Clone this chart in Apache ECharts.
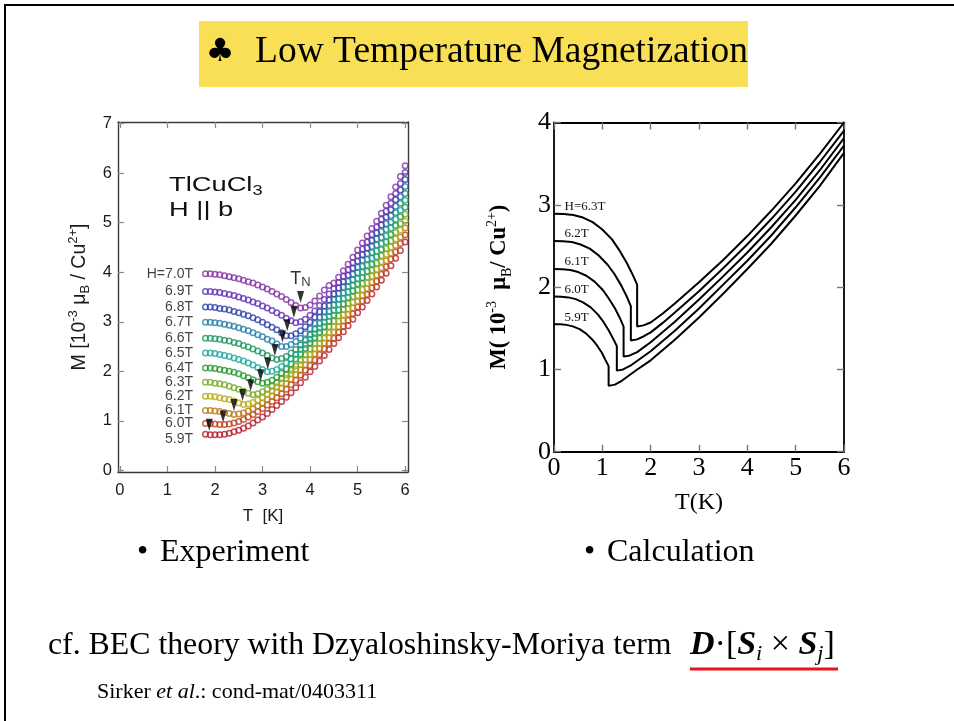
<!DOCTYPE html>
<html><head><meta charset="utf-8">
<script src="https://cdn.jsdelivr.net/npm/echarts@6/dist/echarts.min.js"></script>
<style>html,body{margin:0;padding:0;background:#fff}#c{width:954px;height:721px}</style>
</head><body><div id="c"></div>
<script>
// ---------- Experiment (left panel) ----------
const expTemps = [1.8,1.9,2.0,2.1,2.2,2.3,2.4,2.5,2.6,2.7,2.8,2.9,3.0,3.1,3.2,3.3,3.4,3.5,3.6,3.7,3.8,3.9,4.0,4.1,4.2,4.3,4.4,4.5,4.6,4.7,4.8,4.9,5.0,5.1,5.2,5.3,5.4,5.5,5.6,5.7,5.8,5.9,6.0];
const expFields = ['5.9','6.0','6.1','6.2','6.3','6.4','6.5','6.6','6.7','6.8','6.9','7.0'];
const expM59 = [0.73,0.72,0.72,0.72,0.73,0.75,0.78,0.81, 0.85,0.90,0.96,1.02,1.08,1.15,1.23,1.31, 1.39,1.48,1.57,1.67,1.77,1.88,1.99,2.10, 2.21,2.32,2.44,2.56,2.68,2.80,2.92,3.05, 3.18,3.30,3.43,3.56,3.70,3.84,3.98,4.13, 4.28,4.44,4.61];
const expM60 = [0.95,0.95,0.94,0.93,0.93,0.94,0.96,0.99, 1.03,1.08,1.13,1.19,1.25,1.32,1.39,1.47, 1.55,1.64,1.73,1.82,1.92,2.02,2.12,2.23, 2.34,2.45,2.56,2.67,2.79,2.91,3.03,3.16, 3.30,3.42,3.55,3.68,3.82,3.96,4.11,4.26, 4.41,4.58,4.75];
const expM61 = [1.21,1.21,1.20,1.19,1.17,1.15,1.13,1.14, 1.16,1.20,1.24,1.30,1.36,1.43,1.50,1.58, 1.66,1.75,1.84,1.93,2.03,2.13,2.24,2.35, 2.46,2.57,2.68,2.79,2.90,3.02,3.15,3.28, 3.41,3.53,3.67,3.80,3.94,4.09,4.23,4.38, 4.54,4.71,4.89];
const expM62 = [1.50,1.50,1.49,1.47,1.45,1.43,1.40,1.36, 1.33,1.34,1.37,1.42,1.47,1.54,1.61,1.69, 1.77,1.86,1.95,2.04,2.14,2.24,2.34,2.45, 2.56,2.67,2.78,2.90,3.01,3.14,3.26,3.39, 3.53,3.65,3.78,3.92,4.06,4.21,4.36,4.51, 4.67,4.85,5.03];
const expM63 = [1.78,1.78,1.76,1.75,1.73,1.70,1.67,1.64, 1.60,1.56,1.53,1.55,1.59,1.64,1.70,1.77, 1.85,1.93,2.02,2.11,2.22,2.33,2.45,2.56, 2.67,2.79,2.90,3.01,3.12,3.25,3.37,3.51, 3.64,3.77,3.90,4.04,4.18,4.33,4.48,4.63, 4.80,4.98,5.17];
const expM64 = [2.07,2.07,2.06,2.04,2.02,2.00,1.98,1.95, 1.91,1.87,1.83,1.79,1.76,1.78,1.82,1.88, 1.96,2.05,2.15,2.25,2.35,2.46,2.57,2.68, 2.79,2.90,3.01,3.13,3.24,3.36,3.49,3.62, 3.76,3.89,4.02,4.16,4.31,4.46,4.61,4.76, 4.94,5.12,5.31];
const expM65 = [2.37,2.37,2.36,2.34,2.32,2.30,2.27,2.24, 2.21,2.17,2.13,2.08,2.04,1.99,2.00,2.04, 2.10,2.17,2.25,2.34,2.44,2.54,2.65,2.76, 2.87,2.99,3.11,3.23,3.35,3.47,3.60,3.73, 3.87,4.00,4.14,4.28,4.43,4.58,4.73,4.89, 5.07,5.25,5.45];
const expM66 = [2.67,2.67,2.66,2.65,2.63,2.61,2.58,2.56, 2.52,2.49,2.45,2.41,2.37,2.32,2.27,2.24, 2.26,2.30,2.37,2.44,2.53,2.63,2.74,2.85, 2.97,3.09,3.21,3.34,3.46,3.58,3.71,3.85, 3.99,4.12,4.26,4.40,4.55,4.70,4.86,5.01, 5.20,5.39,5.59];
const expM67 = [2.99,2.99,2.98,2.97,2.95,2.93,2.91,2.88, 2.85,2.82,2.78,2.74,2.70,2.65,2.61,2.55, 2.50,2.50,2.54,2.60,2.67,2.76,2.86,2.97, 3.09,3.21,3.33,3.45,3.57,3.70,3.82,3.96, 4.10,4.24,4.37,4.52,4.67,4.82,4.98,5.14, 5.33,5.52,5.73];
const expM68 = [3.30,3.30,3.29,3.27,3.26,3.24,3.21,3.18, 3.15,3.12,3.08,3.04,2.99,2.94,2.89,2.84, 2.78,2.72,2.72,2.76,2.82,2.90,2.99,3.09, 3.20,3.32,3.44,3.56,3.68,3.81,3.94,4.08, 4.22,4.35,4.49,4.64,4.79,4.95,5.11,5.26, 5.46,5.66,5.87];
const expM69 = [3.61,3.61,3.60,3.59,3.57,3.55,3.53,3.50, 3.47,3.44,3.40,3.37,3.32,3.28,3.23,3.18, 3.13,3.07,3.02,2.98,3.00,3.05,3.13,3.22, 3.33,3.45,3.56,3.67,3.79,3.92,4.05,4.19, 4.33,4.47,4.61,4.76,4.91,5.07,5.23,5.39, 5.59,5.79,6.01];
const expM70 = [3.97,3.97,3.96,3.95,3.93,3.91,3.89,3.87, 3.84,3.81,3.78,3.74,3.70,3.66,3.61,3.56, 3.51,3.45,3.39,3.33,3.28,3.29,3.34,3.42, 3.52,3.64,3.73,3.78,3.90,4.03,4.16,4.30, 4.45,4.59,4.73,4.88,5.03,5.19,5.35,5.52, 5.72,5.93,6.15];
const expSeriesM = [expM59,expM60,expM61,expM62,expM63,expM64,expM65,expM66,expM67,expM68,expM69,expM70];
// Neel temperature arrows (tip positions)
const neelT = [1.88,2.17,2.40,2.58,2.75,2.96,3.11,3.26,3.42,3.52,3.66,3.80];
const neelM = [0.80,0.97,1.20,1.40,1.60,1.80,2.04,2.31,2.58,2.81,3.08,3.38];
const expXTicks = [0,1,2,3,4,5,6];
const expYTicks = [0,1,2,3,4,5,6,7];

// ---------- Calculation (right panel) ----------
const calcFields = ['5.9','6.0','6.1','6.2','6.3'];
const calcT59 = [0,0.13,0.26,0.39,0.53,0.66,0.79,0.89,0.99,1.06,1.13, 1.13,1.26,1.41,1.7,2.0,2.5,3.0,3.5,4.0,4.5,5.0,5.5,6.0];
const calcM59 = [1.55,1.549,1.541,1.523,1.49,1.438,1.364,1.291,1.202,1.119,1.04, 0.80,0.815,0.865,0.99,1.11,1.36,1.63,1.92,2.22,2.53,2.87,3.23,3.63];
const calcT60 = [0,0.15,0.30,0.45,0.60,0.76,0.91,1.02,1.13,1.22,1.30, 1.30,1.43,1.58,2.0,2.25,2.5,3.0,3.5,4.0,4.5,5.0,5.5,6.0];
const calcM60 = [1.885,1.884,1.875,1.854,1.815,1.754,1.666,1.58,1.476,1.377,1.285, 0.985,1.0,1.045,1.22,1.345,1.47,1.74,2.03,2.32,2.63,2.97,3.33,3.72];
const calcT61 = [0,0.17,0.34,0.50,0.67,0.84,1.01,1.13,1.26,1.36,1.44, 1.44,1.57,1.72,2.0,2.25,2.5,3.0,3.5,4.0,4.5,5.0,5.5,6.0];
const calcM61 = [2.22,2.218,2.208,2.183,2.138,2.067,1.965,1.864,1.743,1.628,1.52, 1.155,1.17,1.21,1.33,1.455,1.58,1.85,2.13,2.42,2.73,3.06,3.42,3.81];
const calcT62 = [0,0.18,0.37,0.55,0.74,0.92,1.11,1.25,1.39,1.50,1.59, 1.59,1.72,1.85,2.0,2.25,2.5,3.0,3.5,4.0,4.5,5.0,5.5,6.0];
const calcM62 = [2.56,2.558,2.547,2.518,2.468,2.387,2.272,2.159,2.021,1.892,1.77, 1.35,1.365,1.40,1.45,1.565,1.69,1.95,2.23,2.52,2.83,3.16,3.52,3.90];
const calcT63 = [0,0.2,0.4,0.6,0.8,1.0,1.2,1.35,1.5,1.62,1.72, 1.72,1.85,2.0,2.25,2.5,3.0,3.5,4.0,4.5,5.0,5.5,6.0];
const calcM63 = [2.89,2.888,2.875,2.845,2.79,2.70,2.58,2.45,2.30,2.16,2.03, 1.52,1.535,1.57,1.68,1.80,2.06,2.33,2.62,2.93,3.26,3.62,4.00];
const calcSeriesT = [calcT59,calcT60,calcT61,calcT62,calcT63];
const calcSeriesM = [calcM59,calcM60,calcM61,calcM62,calcM63];

// ---------- styles ----------
const expColors = ['#b81c28','#c23e18','#bd7814','#b5ab14','#76aa20','#22982c','#1ea8a0','#1a965e','#2480ae','#2a42aa','#6030b6','#8230a6'];
const SANS = 'Liberation Sans';
const SERIF = 'Liberation Serif';

const chart = echarts.init(document.getElementById('c'), null, {renderer: 'canvas'});

const expSeries = expSeriesM.map((arr, k) => ({
  type: 'scatter', xAxisIndex: 0, yAxisIndex: 0,
  name: expFields[k] + 'T',
  symbol: 'circle', symbolSize: 5.5,
  itemStyle: {color: 'rgba(0,0,0,0)', borderColor: expColors[k], borderWidth: 1.5},
  emphasis: {disabled: true},
  z: 2 + k,
  data: expTemps.map((t, i) => i === 0 ? {
    value: [t, arr[i]],
    label: {show: true, position: 'left', distance: 9, offset: k === 0 ? [0, 5] : [0, 0],
      formatter: (k === expFields.length - 1 ? 'H=' : '') + expFields[k] + 'T',
      fontFamily: SANS, fontSize: 14, color: '#111'}
  } : [t, arr[i]])
}));

const arrowSeries = {
  type: 'scatter', xAxisIndex: 0, yAxisIndex: 0, z: 20,
  symbol: 'path://M0,0L8,0L4,13Z', symbolSize: [7, 12], symbolOffset: [0, '-50%'],
  itemStyle: {color: '#000'}, emphasis: {disabled: true},
  data: neelT.map((t, i) => i === neelT.length - 1 ? {
    value: [t, neelM[i]],
    label: {show: true, position: 'top', distance: 2, formatter: '{t|T}{n|N}',
      rich: {t: {fontFamily: SANS, fontSize: 18, color: '#000', lineHeight: 20},
             n: {fontFamily: SANS, fontSize: 13, color: '#000', verticalAlign: 'bottom', lineHeight: 20}}}
  } : [t, neelM[i]])
};

const calcSeries = calcSeriesT.map((tArr, k) => ({
  type: 'line', xAxisIndex: 2, yAxisIndex: 2,
  name: calcFields[k] + 'T',
  symbol: 'circle', symbolSize: 1, showSymbol: true, showAllSymbol: true,
  itemStyle: {color: 'rgba(0,0,0,0)'},
  lineStyle: {color: '#000', width: 2}, emphasis: {disabled: true},
  data: tArr.map((t, i) => i === 0 ? {
    value: [t, calcSeriesM[k][i]],
    label: {show: true, position: 'right', distance: 10, offset: [0, -7],
      formatter: (k === calcFields.length - 1 ? 'H=' : '') + calcFields[k] + 'T',
      fontFamily: SERIF, fontSize: 13, color: '#111'}
  } : [t, calcSeriesM[k][i]])
}));

const leftAxisLine = {onZero: false, lineStyle: {color: '#3a3a3a', width: 1.4}};
const leftTick = {inside: true, length: 6, lineStyle: {color: '#8a8a8a', width: 1.2}};
const rightAxisLine = {onZero: false, lineStyle: {color: '#000', width: 1.8}};
const rightTick = {inside: true, length: 7, lineStyle: {color: '#777', width: 1.4}};

const option = {
  animation: false,
  backgroundColor: '#fff',
  grid: [
    {left: 118, top: 122, width: 290, height: 350},
    {left: 554, top: 122.5, width: 290, height: 329.2}
  ],
  xAxis: [
    {gridIndex: 0, type: 'value', min: -0.04, max: 6.06, position: 'bottom',
     axisLine: leftAxisLine, axisTick: Object.assign({customValues: expXTicks}, leftTick),
     axisLabel: {customValues: expXTicks, margin: 10, fontFamily: SANS, fontSize: 16.5, color: '#1a1a1a'},
     splitLine: {show: false},
     name: 'T  [K]', nameLocation: 'middle', nameGap: 36,
     nameTextStyle: {fontFamily: SANS, fontSize: 17, color: '#1a1a1a'}},
    {gridIndex: 0, type: 'value', min: -0.04, max: 6.06, position: 'top',
     axisLine: leftAxisLine, axisTick: Object.assign({customValues: expXTicks}, leftTick),
     axisLabel: {show: false}, splitLine: {show: false}},
    {gridIndex: 1, type: 'value', min: 0, max: 6, interval: 1, position: 'bottom',
     axisLine: rightAxisLine, axisTick: rightTick,
     axisLabel: {margin: 3, fontFamily: SERIF, fontSize: 26, color: '#000'},
     splitLine: {show: false},
     name: 'T(K)', nameLocation: 'middle', nameGap: 39,
     nameTextStyle: {fontFamily: SERIF, fontSize: 24, color: '#000'}},
    {gridIndex: 1, type: 'value', min: 0, max: 6, interval: 1, position: 'top',
     axisLine: rightAxisLine, axisTick: rightTick,
     axisLabel: {show: false}, splitLine: {show: false}}
  ],
  yAxis: [
    {gridIndex: 0, type: 'value', min: -0.03, max: 7.03, position: 'left',
     axisLine: leftAxisLine, axisTick: Object.assign({customValues: expYTicks}, leftTick),
     axisLabel: {customValues: expYTicks, margin: 6, fontFamily: SANS, fontSize: 16.5, color: '#1a1a1a'},
     splitLine: {show: false},
     name: '{m|M [10}{sup|-3}{m| μ}{sub|B}{m| / Cu}{sup|2+}{m|]}', nameLocation: 'middle', nameGap: 26,
     nameTextStyle: {rich: {
       m: {fontFamily: SANS, fontSize: 19.5, color: '#1a1a1a', lineHeight: 25},
       sup: {fontFamily: SANS, fontSize: 13, color: '#1a1a1a', verticalAlign: 'top', lineHeight: 25},
       sub: {fontFamily: SANS, fontSize: 13, color: '#1a1a1a', verticalAlign: 'bottom', lineHeight: 25}}}},
    {gridIndex: 0, type: 'value', min: -0.03, max: 7.03, position: 'right',
     axisLine: leftAxisLine, axisTick: Object.assign({customValues: expYTicks}, leftTick),
     axisLabel: {show: false}, splitLine: {show: false}},
    {gridIndex: 1, type: 'value', min: 0, max: 4, interval: 1, position: 'left',
     axisLine: rightAxisLine, axisTick: rightTick,
     axisLabel: {margin: 3, fontFamily: SERIF, fontSize: 26, color: '#000'},
     splitLine: {show: false},
     name: '{m|M( 10}{sup|-3}{m|  μ}{sub|B}{m|/ Cu}{sup|2+}{m|)}', nameLocation: 'middle', nameGap: 40,
     nameTextStyle: {rich: {
       m: {fontFamily: SERIF, fontWeight: 'bold', fontSize: 22.5, color: '#000', lineHeight: 29},
       sup: {fontFamily: SERIF, fontSize: 14, color: '#000', verticalAlign: 'top', lineHeight: 29},
       sub: {fontFamily: SERIF, fontSize: 14, color: '#000', verticalAlign: 'bottom', lineHeight: 29}}}},
    {gridIndex: 1, type: 'value', min: 0, max: 4, interval: 1, position: 'right',
     axisLine: rightAxisLine, axisTick: rightTick,
     axisLabel: {show: false}, splitLine: {show: false}}
  ],
  series: expSeries.concat([arrowSeries], calcSeries),
  graphic: [
    {type: 'rect', shape: {x: 5, y: 5, width: 970, height: 740}, style: {fill: 'none', stroke: '#000', lineWidth: 2}, z: 100},
    {type: 'rect', shape: {x: 199, y: 21, width: 549, height: 66}, style: {fill: '#f9df55'}, z: -1},
    {type: 'text', x: 220, y: 53, style: {text: '♣', font: '32px "DejaVu Sans"', fill: '#000', align: 'center', verticalAlign: 'middle'}},
    {type: 'text', x: 255, y: 52, style: {text: 'Low Temperature Magnetization', font: '37.5px "Liberation Serif"', fill: '#000', verticalAlign: 'middle'}},
    {type: 'text', x: 169, y: 198, scaleX: 1.3, style: {text: '{a|TlCuCl}{b|3}\n{a|H || b}', verticalAlign: 'middle',
      rich: {a: {fontFamily: SANS, fontSize: 21, fill: '#111', lineHeight: 25}, b: {fontFamily: SANS, fontSize: 14, fill: '#111', verticalAlign: 'bottom', lineHeight: 25}}}},
    {type: 'text', x: 137, y: 553, style: {text: '•', font: '32px "Liberation Serif"', fill: '#000', verticalAlign: 'middle'}},
    {type: 'text', x: 160, y: 553, style: {text: 'Experiment', font: '32px "Liberation Serif"', fill: '#000', verticalAlign: 'middle'}},
    {type: 'text', x: 584, y: 553, style: {text: '•', font: '32px "Liberation Serif"', fill: '#000', verticalAlign: 'middle'}},
    {type: 'text', x: 607, y: 553, style: {text: 'Calculation', font: '32px "Liberation Serif"', fill: '#000', verticalAlign: 'middle'}},
    {type: 'text', x: 48, y: 646, style: {text: 'cf. BEC theory with Dzyaloshinsky-Moriya term', font: '31.8px "Liberation Serif"', fill: '#000', verticalAlign: 'middle'}},
    {type: 'text', x: 690, y: 645, style: {text: '{bi|D}{n|·[}{bi|S}{si|i}{n| × }{bi|S}{si|j}{n|]}', verticalAlign: 'middle',
      rich: {bi: {fontFamily: SERIF, fontStyle: 'italic', fontWeight: 'bold', fontSize: 34, fill: '#000', lineHeight: 40},
             n: {fontFamily: SERIF, fontSize: 34, fill: '#000', lineHeight: 40},
             si: {fontFamily: SERIF, fontStyle: 'italic', fontSize: 22, fill: '#000', verticalAlign: 'bottom', lineHeight: 36}}}},
    {type: 'line', shape: {x1: 690, y1: 669, x2: 838, y2: 669}, style: {stroke: '#e8141c', lineWidth: 3}},
    {type: 'text', x: 97, y: 692, style: {text: '{n|Sirker }{i|et al}{n|.: cond-mat/0403311}', verticalAlign: 'middle',
      rich: {n: {fontFamily: SERIF, fontSize: 22, fill: '#000'}, i: {fontFamily: SERIF, fontStyle: 'italic', fontSize: 22, fill: '#000'}}}}
  ]
};
chart.setOption(option);
</script></body></html>
